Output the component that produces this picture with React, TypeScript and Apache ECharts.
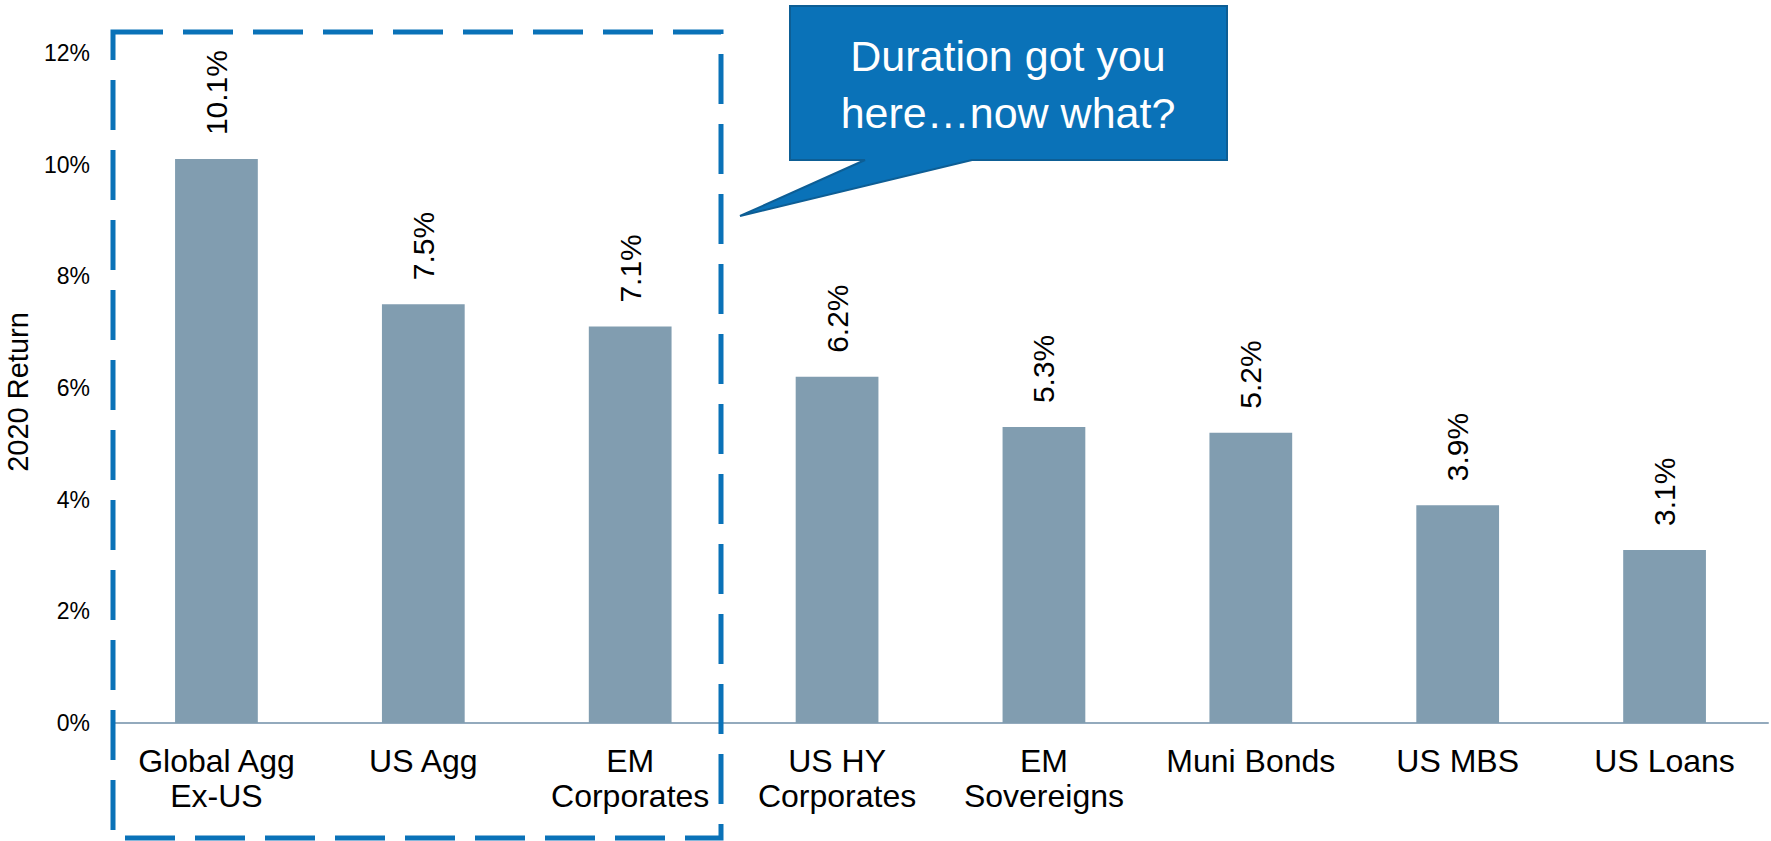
import React, { useEffect, useRef } from "react";
import * as echarts from "echarts";

// 2020 total returns by fixed income sector (%)
const categories = [
  "Global Agg\nEx-US",
  "US Agg",
  "EM\nCorporates",
  "US HY\nCorporates",
  "EM\nSovereigns",
  "Muni Bonds",
  "US MBS",
  "US Loans",
];
const returns2020 = [10.1, 7.5, 7.1, 6.2, 5.3, 5.2, 3.9, 3.1];
const yTicks = { min: 0, max: 12, interval: 2 };
const axisTitle = "2020 Return";
const calloutLines = ["Duration got you", "here\u2026now what?"];

const FONT = "'Liberation Sans', Arial, Helvetica, sans-serif";
const BLUE = "#0A72B8";

export default function App() {
  const ref = useRef<HTMLDivElement>(null);

  useEffect(() => {
    if (!ref.current) return;
    const chart = echarts.init(ref.current, null, { renderer: "svg" });

    chart.setOption({
      animation: false,
      backgroundColor: "#ffffff",
      textStyle: { fontFamily: FONT },
      grid: { left: 113, right: 3, top: 53, bottom: 118, containLabel: false },
      xAxis: {
        type: "category",
        data: categories,
        axisTick: { show: false },
        axisLine: { show: true, lineStyle: { color: "#93AABD", width: 2 } },
        axisLabel: {
          interval: 0,
          color: "#000",
          fontSize: 32,
          lineHeight: 35,
          margin: 20,
          fontFamily: FONT,
          verticalAlign: "top",
        },
      },
      yAxis: {
        type: "value",
        min: yTicks.min,
        max: yTicks.max,
        interval: yTicks.interval,
        axisLine: { show: false },
        axisTick: { show: false },
        splitLine: { show: false },
        axisLabel: {
          formatter: "{value}%",
          color: "#000",
          fontSize: 23,
          margin: 23,
          fontFamily: FONT,
        },
      },
      series: [
        {
          type: "bar",
          data: returns2020,
          barWidth: "40%",
          itemStyle: { color: "#819DB0" },
          label: {
            show: true,
            position: "top",
            rotate: 90,
            align: "left",
            verticalAlign: "middle",
            distance: 24,
            color: "#000",
            fontSize: 30,
            fontFamily: FONT,
            formatter: (p: any) => `${p.value.toFixed(1)}%`,
          },
        },
      ],
      graphic: [
        {
          type: "text",
          x: 18,
          y: 392,
          rotation: Math.PI / 2,
          style: {
            text: axisTitle,
            fontSize: 29,
            fontFamily: FONT,
            fill: "#000",
            align: "center",
            verticalAlign: "middle",
          },
        },
        {
          type: "rect",
          shape: { x: 113, y: 32, width: 608, height: 806 },
          style: {
            fill: "none",
            stroke: BLUE,
            lineWidth: 5,
            lineDash: [50, 20],
          },
          z: 10,
        },
        {
          type: "polygon",
          shape: {
            points: [
              [790, 6],
              [1227, 6],
              [1227, 160],
              [972, 160],
              [740, 216],
              [865, 160],
              [790, 160],
            ],
          },
          style: { fill: BLUE, stroke: "#0D5E95", lineWidth: 2 },
          z: 10,
        },
        {
          type: "text",
          x: 1008,
          y: 84,
          style: {
            text: calloutLines.join("\n"),
            fontSize: 43,
            lineHeight: 57,
            fontFamily: FONT,
            fill: "#ffffff",
            align: "center",
            verticalAlign: "middle",
          },
          z: 11,
        },
      ],
    });

    return () => chart.dispose();
  }, []);

  return (
    <div
      ref={ref}
      style={{ position: "absolute", left: 0, top: 0, width: 1771, height: 841 }}
    />
  );
}
